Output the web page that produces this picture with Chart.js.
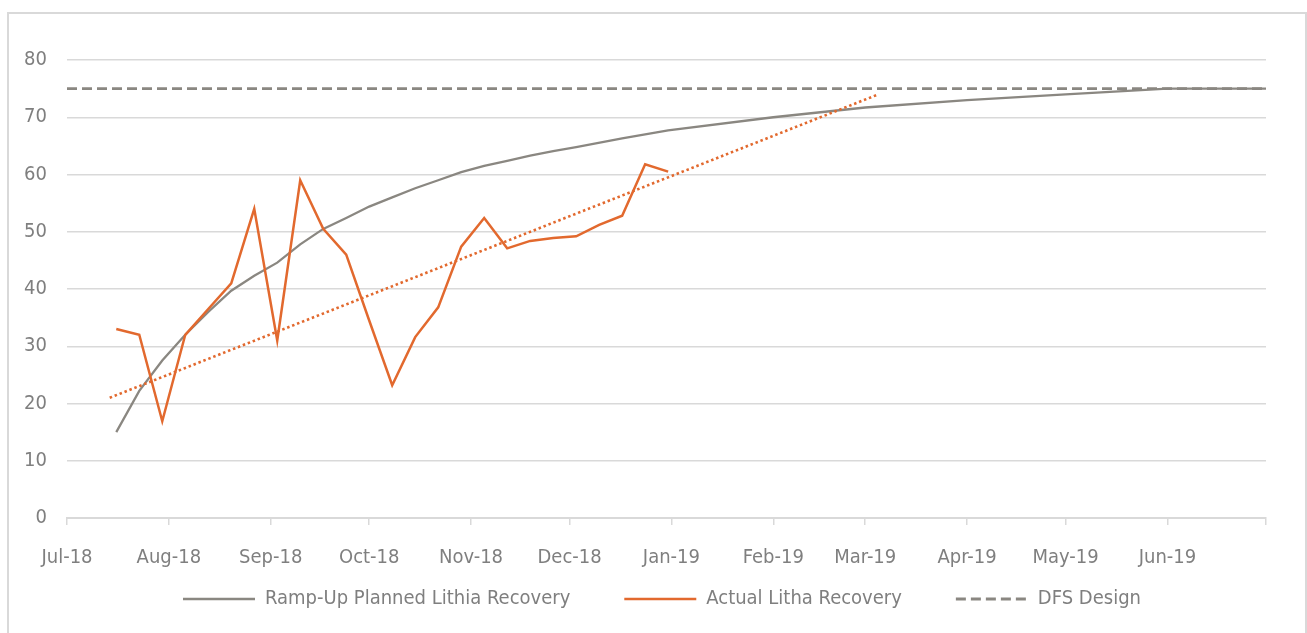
<!DOCTYPE html>
<html>
<head>
<meta charset="utf-8">
<script src="https://cdn.jsdelivr.net/npm/chart.js@4"></script>
<style>
    body { margin: 0; background: #fff; }
    .frame { position: absolute; left: 7px; top: 12px; width: 1300px; height: 700px; border: 2px solid #d9d9d9; box-sizing: border-box; }
    #grafico { position: absolute; left: 0; top: 0; }
</style>
</head>
<body>
<div class="frame"></div>
<canvas id="grafico" width="1307" height="633"></canvas>
<script>
// days counted from 1 Jul 2018
const monthLabels = ['Jul-18', 'Aug-18', 'Sep-18', 'Oct-18', 'Nov-18', 'Dec-18', 'Jan-19', 'Feb-19', 'Mar-19', 'Apr-19', 'May-19', 'Jun-19', '']
const monthStartDays = [0, 31, 62, 92, 123, 153, 184, 215, 243, 274, 304, 335, 365]

const plannedDays = [15, 22, 29, 36, 43, 50, 57, 64, 71, 78, 85, 92, 99, 106, 113, 120, 127, 134, 141, 148, 155, 169, 183, 215, 243, 274, 304, 335, 365]
const plannedValues = [15.0, 22.2, 27.5, 32.0, 36.0, 39.7, 42.3, 44.6, 47.8, 50.5, 52.4, 54.4, 56.0, 57.6, 59.0, 60.4, 61.5, 62.4, 63.3, 64.1, 64.8, 66.3, 67.7, 70.0, 71.7, 73.0, 74.0, 75.0, 75.0]

const actualDays = [15, 22, 29, 36, 43, 50, 57, 64, 71, 78, 85, 92, 99, 106, 113, 120, 127, 134, 141, 148, 155, 162, 169, 176, 183]
const actualValues = [33.0, 32.0, 16.9, 32.0, 36.5, 41.0, 54.0, 31.0, 59.0, 50.5, 46.0, 34.5, 23.2, 31.6, 36.8, 47.4, 52.4, 47.1, 48.4, 48.9, 49.2, 51.2, 52.8, 61.8, 60.5]

const dfsDays = [0, 365]
const dfsValues = [75, 75]

const trendDays = [13, 247]
const trendValues = [21.0, 74.0]

const fonte = '"DejaVu Sans Condensed", "DejaVu Sans", sans-serif'
const corTexto = '#7f7f7f'
const cinza = '#8a8781'
const laranja = '#e2692e'

function pontos(dias, valores) {
    return dias.map(function (d, i) { return { x: d, y: valores[i] } })
}

// legend sits just under the tick labels, centred like the original
const moverLegenda = {
    id: 'moverLegenda',
    afterLayout: function (chart) {
        const leg = chart.legend
        if (!leg) return
        const h = leg.bottom - leg.top
        leg.top = chart.chartArea.bottom + 17
        leg.bottom = leg.top + h
        const dx = 662 - (leg.left + leg.right) / 2
        leg.left += dx
        leg.right += dx
    }
}

function graficoRecuperacao() {
    const ctx = document.getElementById('grafico').getContext('2d')

    new Chart(ctx, {
        type: 'line',
        data: {
            datasets: [{
                label: 'Ramp-Up Planned Lithia Recovery',
                data: pontos(plannedDays, plannedValues),
                borderColor: cinza,
                borderWidth: 2.3,
                pointRadius: 0,
                order: 2
            }, {
                label: 'Actual Litha Recovery',
                data: pontos(actualDays, actualValues),
                borderColor: laranja,
                borderWidth: 2.5,
                pointRadius: 0,
                order: 1
            }, {
                label: 'DFS Design',
                data: pontos(dfsDays, dfsValues),
                borderColor: cinza,
                borderWidth: 2.8,
                borderDash: [10, 5],
                pointRadius: 0,
                order: 3
            }, {
                label: 'Trend',
                data: pontos(trendDays, trendValues),
                borderColor: laranja,
                borderWidth: 2.6,
                borderDash: [2.5, 2.8],
                pointRadius: 0,
                order: 0
            }]
        },
        options: {
            responsive: false,
            animation: false,
            layout: {
                padding: { left: 20, right: 41, top: 60, bottom: -29 }
            },
            scales: {
                x: {
                    type: 'linear',
                    min: 0,
                    max: 365,
                    afterBuildTicks: function (scale) {
                        scale.ticks = monthStartDays.map(function (d) { return { value: d } })
                    },
                    afterFit: function (scale) {
                        scale.height = 60
                    },
                    ticks: {
                        autoSkip: false,
                        maxRotation: 0,
                        padding: 21,
                        color: corTexto,
                        font: { family: fonte, size: 20 },
                        callback: function (value, index) {
                            return monthLabels[index]
                        }
                    },
                    grid: {
                        drawOnChartArea: false,
                        drawTicks: true,
                        tickLength: 7,
                        color: '#d9d9d9',
                        lineWidth: 1.5
                    },
                    border: { color: '#d9d9d9', width: 2 }
                },
                y: {
                    min: 0,
                    max: 80,
                    afterFit: function (scale) {
                        scale.width = 47
                    },
                    ticks: {
                        stepSize: 10,
                        padding: 20,
                        color: corTexto,
                        font: { family: fonte, size: 20 }
                    },
                    grid: {
                        drawTicks: false,
                        color: '#d9d9d9',
                        lineWidth: 1.5
                    },
                    border: { display: false }
                }
            },
            plugins: {
                tooltip: { enabled: false },
                legend: {
                    position: 'bottom',
                    labels: {
                        usePointStyle: true,
                        pointStyle: 'line',
                        pointStyleWidth: 72,
                        padding: 54,
                        color: corTexto,
                        font: { family: fonte, size: 20 },
                        generateLabels: function (chart) {
                            const items = Chart.defaults.plugins.legend.labels.generateLabels(chart)
                            items.forEach(function (item) {
                                const ds = chart.data.datasets[item.datasetIndex]
                                item.lineWidth = ds.borderWidth
                                item.lineDash = ds.borderDash || []
                                item.strokeStyle = ds.borderColor
                            })
                            return items
                        },
                        filter: function (item) {
                            return item.datasetIndex !== 3
                        },
                        sort: function (a, b) {
                            return a.datasetIndex - b.datasetIndex
                        }
                    }
                }
            }
        },
        plugins: [moverLegenda]
    })
}

graficoRecuperacao()
</script>
</body>
</html>
